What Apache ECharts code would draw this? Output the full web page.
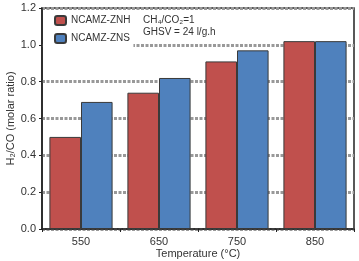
<!DOCTYPE html>
<html>
<head>
<meta charset="utf-8">
<script src="https://cdn.jsdelivr.net/npm/echarts@6/dist/echarts.min.js"></script>
<style>
  html, body { margin: 0; padding: 0; background: #fff; }
  #chart { width: 359px; height: 261px; }
</style>
</head>
<body>
<div id="chart"></div>
<script>
// Temperatures (°C) and H2/CO molar ratio per catalyst
const temperatures = ['550', '650', '750', '850'];
const znhValues = [0.50, 0.74, 0.91, 1.02];
const znsValues = [0.69, 0.82, 0.97, 1.02];
const yTicks = [0, 0.2, 0.4, 0.6, 0.8, 1.0, 1.2];

const RED = '#C0504D';
const BLUE = '#4F81BD';
const TEXT = '#333';
const FONT = 'Liberation Sans';

const chart = echarts.init(document.getElementById('chart'));

chart.setOption({
  animation: false,
  grid: {
    left: 42, right: 5, top: 8, bottom: 32,
    outerBoundsMode: 'none',
    containLabel: false,
    show: true, borderColor: '#222', borderWidth: 1.5, backgroundColor: 'transparent'
  },
  legend: {
    orient: 'vertical',
    left: 43, top: 10,
    padding: [5, 3, 4, 11],
    itemWidth: 11, itemHeight: 9, itemGap: 7,
    backgroundColor: '#fff',
    textStyle: { color: TEXT, fontSize: 10, fontFamily: FONT },
    data: ['NCAMZ-ZNH', 'NCAMZ-ZNS']
  },
  graphic: [{
    type: 'text',
    left: 143, top: 14,
    style: {
      text: 'CH\u2084/CO\u2082=1\nGHSV = 24 l/g.h',
      fill: TEXT, fontSize: 10, fontFamily: FONT, lineHeight: 12
    }
  }],
  xAxis: {
    type: 'category',
    data: temperatures,
    name: 'Temperature (°C)',
    nameLocation: 'middle',
    nameMoveOverlap: false,
    nameGap: 19,
    nameTextStyle: { color: TEXT, fontSize: 11, fontFamily: FONT },
    axisLine: { lineStyle: { color: '#222', width: 1.5 } },
    axisTick: { show: true, length: 3, lineStyle: { color: '#222' } },
    axisLabel: { color: TEXT, fontSize: 11, fontFamily: FONT, margin: 7 }
  },
  yAxis: {
    type: 'value',
    min: 0, max: 1.2, interval: 0.2,
    name: 'H\u2082/CO (molar ratio)',
    nameLocation: 'middle',
    nameMoveOverlap: false,
    nameGap: 26,
    nameTextStyle: { color: TEXT, fontSize: 11, fontFamily: FONT },
    axisLine: { show: true, lineStyle: { color: '#222', width: 1.5 } },
    axisTick: { show: true, length: 3, lineStyle: { color: '#222' } },
    axisLabel: {
      color: TEXT, fontSize: 11, fontFamily: FONT, margin: 6,
      formatter: v => yTicks.includes(+v.toFixed(1)) ? v.toFixed(1) : ''
    },
    splitLine: { lineStyle: { color: '#999', width: 3, type: [3, 1.5] } }
  },
  series: [
    {
      name: 'NCAMZ-ZNH',
      type: 'bar',
      data: znhValues,
      barGap: '0%',
      barCategoryGap: '19%',
      itemStyle: { color: RED, borderColor: '#3a3a3a', borderWidth: 1 }
    },
    {
      name: 'NCAMZ-ZNS',
      type: 'bar',
      data: znsValues,
      barGap: '0%',
      barCategoryGap: '19%',
      itemStyle: { color: BLUE, borderColor: '#3a3a3a', borderWidth: 1 }
    }
  ]
});
</script>
</body>
</html>
